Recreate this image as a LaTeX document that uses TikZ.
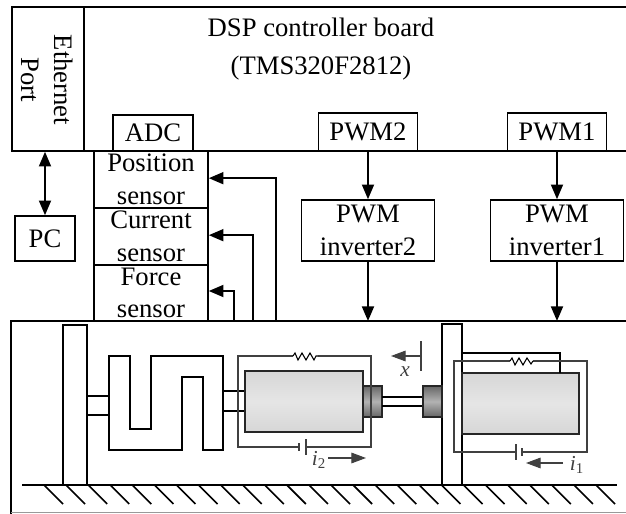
\documentclass[tikz,border=0pt]{standalone}
\usepackage{fontspec}
\setmainfont{Liberation Serif}
\usetikzlibrary{arrows.meta}
\tikzset{
  unitbox/.style={draw,line width=1.2pt,inner sep=0pt,align=center,font=\fontsize{20}{24.5}\selectfont},
  plainlabel/.style={inner sep=0pt,align=center,font=\fontsize{20}{29}\selectfont},
  smalllabel/.style={inner sep=0pt,text=black!75,font=\fontsize{16}{18}\selectfont},
  sigline/.style={line width=1.4pt,-{Triangle[length=11pt,width=9pt]}},
  partline/.style={line width=1.2pt},
  wireline/.style={line width=0.8pt,black!75},
  coreblock/.style={draw=black!85,line width=1.2pt,top color=black!16,bottom color=black!16,middle color=black!10},
  couplerblock/.style={draw=black!85,line width=1.2pt,top color=black!60,bottom color=black!60,middle color=black!30}
}
\begin{document}
\begin{tikzpicture}[x=0.75pt,y=-0.75pt]
\useasboundingbox (0,0) rectangle (626,514);
\draw[partline] (84,7) -- (626,7);
\draw[partline] (84,151) -- (626,151);
\draw[partline] (626,321) -- (11,321) -- (11,514);
\draw[line width=0.8pt,black!40] (11,512.5) -- (626,512.5);
\node[unitbox,minimum width=54pt,minimum height=108pt] (eth) at (48,79) {};
\node[plainlabel,rotate=-90,font=\fontsize{20}{24.5}\selectfont] (ethtxt) at (47,80) {Ethernet\\Port};
\node[plainlabel] (dsp) at (321,49) {DSP controller board\\(TMS320F2812)};
\node[unitbox,minimum width=60pt,minimum height=27pt] (adc) at (153,133) {ADC};
\node[unitbox,minimum width=74.25pt,minimum height=28.5pt] (pwmb) at (368,132) {PWM2};
\node[unitbox,minimum width=74.25pt,minimum height=28.5pt] (pwma) at (557,132) {PWM1};
\node[unitbox,minimum width=45pt,minimum height=33.75pt] (pc) at (45,238.5) {PC};
\node[unitbox,minimum width=85.5pt,minimum height=42.75pt] (pos) at (151,179.5) {Position\\sensor};
\node[unitbox,minimum width=85.5pt,minimum height=42.75pt] (cur) at (151,236.5) {Current\\sensor};
\node[unitbox,minimum width=85.5pt,minimum height=42.75pt] (frc) at (151,293) {Force\\sensor};
\node[unitbox,minimum width=99.75pt,minimum height=45.75pt] (invb) at (368,230.5) {PWM\\inverter2};
\node[unitbox,minimum width=99.75pt,minimum height=45.75pt] (inva) at (557,230.5) {PWM\\inverter1};
\coordinate (possrc) at (276,321);
\coordinate (cursrc) at (253,321);
\coordinate (frcsrc) at (234,321);
\coordinate (plantb) at (368,321);
\coordinate (planta) at (557,321);
\draw[sigline,{Triangle[length=11pt,width=9pt]}-{Triangle[length=11pt,width=9pt]}] (pc.north) -- (pc.north |- eth.south);
\draw[sigline] (possrc) |- ([yshift=1pt]pos.east);
\draw[sigline] (cursrc) |- ([yshift=1pt]cur.east);
\draw[sigline] (frcsrc) |- ([yshift=1.5pt]frc.east);
\draw[sigline] (pwmb) -- (invb);
\draw[sigline] (pwma) -- (inva);
\draw[sigline] (invb) -- (plantb);
\draw[sigline] (inva) -- (planta);
\draw[partline] (63,485) -- (63,325) -- (87,325) -- (87,485);
\draw[partline] (442,485) -- (442,324) -- (462,324) -- (462,485);
\draw[partline] (22,485) -- (617,485);
\foreach \hx in {0,...,25}
  \draw[partline] ({44+22.08*\hx},485) -- ({63+22.08*\hx},504);
\draw[partline] (109,356) -- (130,356) -- (130,429) -- (151,429) -- (151,356) -- (223,356) -- (223,450) -- (203,450) -- (203,377) -- (182,377) -- (182,450) -- (109,450) -- cycle;
\draw[partline] (87,396) -- (109,396);
\draw[partline] (87,415) -- (109,415);
\draw[partline] (223,391) -- (245,391);
\draw[partline] (223,411) -- (245,411);
\shade[coreblock] (245,371) rectangle (363,432);
\shade[couplerblock] (363,386) rectangle (382,417);
\draw[partline] (382,397) -- (423,397);
\draw[partline] (382,406) -- (423,406);
\shade[couplerblock] (423,386) rectangle (442,417);
\draw[wireline] (293,356) -- (238,356) -- (238,447) -- (299,447);
\draw[wireline] (299,443) -- (299,451);
\draw[wireline] (306,439) -- (306,455);
\draw[wireline] (306,447) -- (371,447) -- (371,356) -- (318,356);
\draw[wireline,black] (293,356) -- (295,353) -- (298,360) -- (302,353) -- (306,360) -- (310,353) -- (314,360) -- (316,356) -- (318,356);
\shade[coreblock] (462,373) rectangle (579,434);
\draw[partline] (462,353) -- (560,353) -- (560,373);
\draw[wireline] (510,361) -- (454,361) -- (454,452) -- (516,452);
\draw[wireline] (516,444) -- (516,460);
\draw[wireline] (522,448) -- (522,456);
\draw[wireline] (522,452) -- (587,452) -- (587,361) -- (533,361);
\draw[wireline,black] (510,361) -- (512,358) -- (515,365) -- (519,358) -- (523,365) -- (527,358) -- (531,364) -- (533,361);
\coordinate (markx) at (421,356);
\coordinate (tipx) at (391,356);
\draw[wireline] (421,341) -- (421,371);
\draw[wireline,-{Triangle[length=11pt,width=8pt]}] (markx) -- (tipx);
\node[smalllabel] (labx) at (405,372) {\textit{x}};
\coordinate (startb) at (328,458);
\coordinate (tipb) at (366,458);
\draw[wireline,-{Triangle[length=11pt,width=8pt]}] (startb) -- (tipb);
\node[smalllabel] (labb) at (319,460) {\textit{i}\textsubscript{2}};
\coordinate (starta) at (563,463);
\coordinate (tipa) at (526,463);
\draw[wireline,-{Triangle[length=11pt,width=8pt]}] (starta) -- (tipa);
\node[smalllabel] (laba) at (577,465) {\textit{i}\textsubscript{1}};
\end{tikzpicture}
\end{document}
